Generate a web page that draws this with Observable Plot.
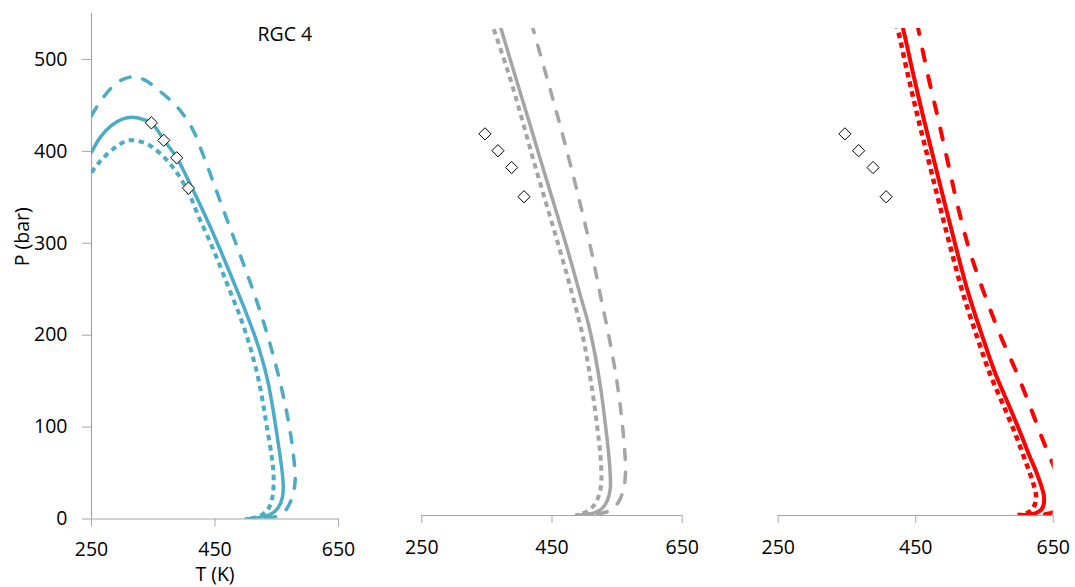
<!DOCTYPE html>
<html>
<head>
<meta charset="utf-8">
<script src="https://cdn.jsdelivr.net/npm/d3@7"></script>
<script src="https://cdn.jsdelivr.net/npm/@observablehq/plot@0.6"></script>
<style>
  html, body { margin: 0; padding: 0; background: #fff; }
  #chart { position: relative; width: 1075px; height: 587px; overflow: hidden; font-family: "Open Sans", sans-serif; }
  #chart svg { position: absolute; top: 0; }
</style>
</head>
<body>
<div id="chart"></div>
<script>
// Axis ticks
const xTicks = [250, 450, 650];
const yTicks = [0, 100, 200, 300, 400, 500];

// Measured saturation points (shown in every panel)
const expT = [347, 367, 388, 407];
const expP = [431, 412, 393, 360];

// Panel 1 (RGC 4) – base (solid), upper (dashed) and lower (dotted) envelopes
const p1BaseT  = [250, 265, 282, 300, 316, 332, 347, 367, 388, 413, 433.5, 454, 471.5, 485, 500, 514, 526, 535.5, 542.5, 548.5, 554, 559, 560.5, 559, 552, 540, 525, 510, 500];
const p1BaseP  = [399, 416, 428, 435, 437, 435, 431, 412.6, 393, 360, 331, 300, 272, 250, 225, 200, 175, 150, 125, 100, 75, 50, 35, 23, 12, 5, 2, 0.6, 0.2];
const p1UpperT = [250, 265, 286, 300, 316, 335, 356, 389, 413, 432, 448, 466, 482, 498, 511.5, 523.5, 535, 545.5, 555, 563.5, 570.5, 576, 580, 578, 573, 565, 555, 540, 520, 505];
const p1UpperP = [439, 455, 471.7, 478, 481, 478, 468, 448, 425, 394, 365, 332, 303, 274, 249, 225, 200, 175, 150, 125, 100, 75, 45, 32, 20, 10, 4, 1.5, 0.5, 0.2];
const p1LowerT = [250, 265, 290, 311, 340, 367, 389, 408, 424, 443, 460, 473, 488, 501, 512, 521, 528, 534, 542, 545, 543, 537, 527, 514, 502];
const p1LowerP = [377, 390, 405, 412, 408, 394, 376, 354, 328, 300, 272, 250, 225, 200, 175, 150, 125, 100, 67, 45, 24, 12, 5, 1.5, 0.4];

// Panel 2
const p2BaseT  = [369, 371, 392, 412.7, 433, 453.7, 474, 493, 506, 516.5, 525.5, 532, 537, 539.5, 539.5, 535, 527, 515, 500, 488];
const p2BaseP  = [556, 551.7, 500, 450, 400, 350, 300, 250, 216, 180, 140, 103, 70, 45, 30, 17, 8, 3, 1, 0.5];
const p2UpperT = [418, 420, 440, 459, 477, 494, 510, 524, 538, 550, 558.5, 562, 563, 560, 552, 540, 522, 494];
const p2UpperP = [556, 551.7, 500, 450, 400, 350, 300, 250, 200, 150, 100, 70, 50, 30, 15, 6, 2, 0.5];
const p2LowerT = [356, 358, 383, 403, 422, 442, 462, 481, 498, 510, 519.5, 524.5, 525.8, 523, 515, 504, 494, 486];
const p2LowerP = [560, 555, 500, 450, 400, 350, 300, 250, 200, 150, 100, 66, 40, 25, 12, 5, 1.5, 0.4];

// Panel 3
const p3BaseT  = [429, 431, 446, 461, 477, 493, 509.5, 527, 548, 566, 588, 604, 614, 625, 632, 636.5, 636, 632, 624, 612, 602];
const p3BaseP  = [556, 551.7, 500, 450, 400, 350, 300, 250, 200, 160, 120, 90, 70, 50, 35, 22, 12, 6, 2.5, 1, 0.5];
const p3UpperT = [452, 467, 482, 496.5, 511, 528, 550, 575, 597.6, 618, 632.5, 643, 651, 660, 663, 659, 650, 638, 620];
const p3UpperP = [556, 500, 450, 400, 350, 300, 250, 200, 160, 120, 90, 70, 55, 35, 20, 10, 4, 1.5, 0.5];
const p3LowerT = [421, 423, 438, 453, 469, 485, 501.5, 519, 540, 558, 580, 596, 605.5, 615, 621.5, 625, 623, 618, 611, 604, 598];
const p3LowerP = [556, 551.7, 500, 450, 400, 350, 300, 250, 200, 160, 120, 90, 70, 50, 35, 22, 12, 6, 2.5, 1, 0.5];

const axisGray = "#A6A6A6";
const font = "'Open Sans', sans-serif";
const pts = (T, P) => T.map((t, i) => ({T: t, P: P[i]}));

function panel(o) {
  const marks = [
    Plot.ruleY([0], {stroke: axisGray, strokeWidth: 1.2}),
    Plot.axisX({ticks: xTicks, tickSize: 8, tickPadding: o.xPad, stroke: axisGray, fill: "#000", fontSize: 19.5, label: null, tickFormat: d => String(d)})
  ];
  if (o.yAxis) {
    marks.push(
      Plot.ruleX([250], {stroke: axisGray, strokeWidth: 1.2}),
      Plot.axisY({ticks: yTicks, tickSize: 9, tickPadding: 15, stroke: axisGray, fill: "#000", fontSize: 19.5, label: null, tickFormat: d => String(d)}),
      Plot.text(["P (bar)"], {text: d => d, frameAnchor: "left", dx: -69, rotate: -90, fill: "#000", fontSize: 19.5}),
      Plot.text(["T (K)"], {text: d => d, frameAnchor: "bottom", dy: 56, lineAnchor: "middle", fill: "#000", fontSize: 19.5}),
      Plot.text(["RGC 4"], {text: d => d, frameAnchor: "top", dx: 42.5, dy: 21.5, textAnchor: "start", lineAnchor: "middle", fontSize: 19.5, fill: "#000"})
    );
  }
  marks.push(
    Plot.line(pts(o.upperT, o.upperP), {x: "T", y: "P", stroke: o.color, strokeWidth: o.sw, strokeDasharray: o.dash, strokeLinecap: "round", curve: "catmull-rom", clip: true}),
    Plot.line(pts(o.lowerT, o.lowerP), {x: "T", y: "P", stroke: o.color, strokeWidth: o.sw + 0.5, strokeDasharray: o.dot, strokeLinecap: "butt", strokeLinejoin: "miter", curve: "catmull-rom", clip: true}),
    Plot.line(pts(o.baseT, o.baseP), {x: "T", y: "P", stroke: o.color, strokeWidth: o.sw, curve: "catmull-rom", clip: true}),
    Plot.dot(pts(expT, expP), {x: "T", y: "P", symbol: "diamond2", r: 5.5, fill: "white", stroke: "#000", strokeWidth: 1})
  );
  const svg = Plot.plot({
    width: o.width, height: 587,
    marginLeft: o.ml, marginRight: o.mr, marginTop: o.mt, marginBottom: 587 - o.axisY,
    x: {domain: [250, 650]},
    y: {domain: [0, 550], axis: null},
    style: {fontFamily: font, fontSize: "19.5px", color: "#000", background: "transparent", overflow: "visible"},
    marks
  });
  svg.style.left = o.left + "px";
  document.getElementById("chart").appendChild(svg);
}

panel({left: 0, width: 360, ml: 91, mr: 22, mt: 13, axisY: 518.5, xPad: 15.5, yAxis: true,
  color: "#4BACC6", sw: 3.5, dash: "10,13", dot: "5.5,4.5",
  baseT: p1BaseT, baseP: p1BaseP, upperT: p1UpperT, upperP: p1UpperP, lowerT: p1LowerT, lowerP: p1LowerP});
panel({left: 380, width: 320, ml: 41.3, mr: 18.3, mt: 28, axisY: 515, xPad: 17, yAxis: false,
  color: "#A5A5A5", sw: 3.5, dash: "10,13", dot: "5.5,4.5",
  baseT: p2BaseT, baseP: p2BaseP, upperT: p2UpperT, upperP: p2UpperP, lowerT: p2LowerT, lowerP: p2LowerP});
panel({left: 740, width: 335, ml: 37.7, mr: 22.3, mt: 28, axisY: 515, xPad: 17, yAxis: false,
  color: "#FF0000", sw: 4, dash: "11,16", dot: "5.5,4.5",
  baseT: p3BaseT, baseP: p3BaseP, upperT: p3UpperT, upperP: p3UpperP, lowerT: p3LowerT, lowerP: p3LowerP});
</script>
</body>
</html>
